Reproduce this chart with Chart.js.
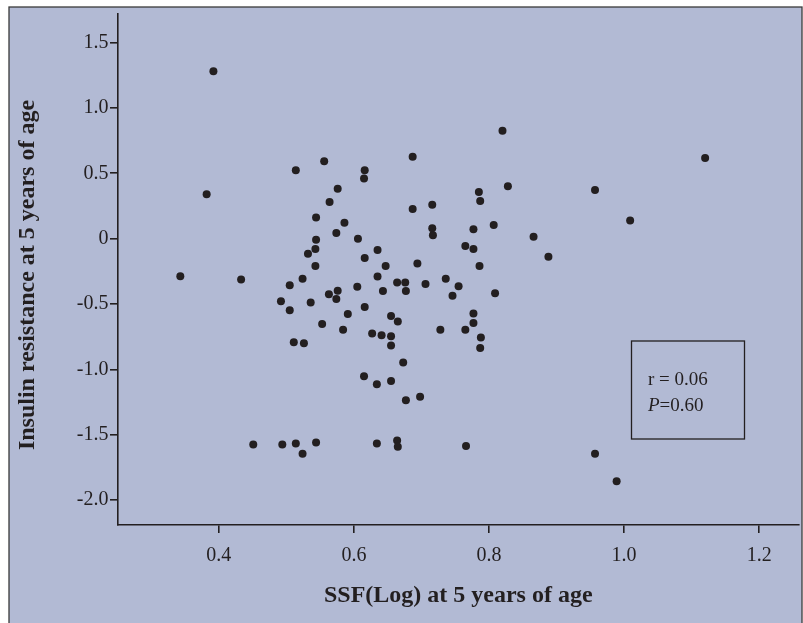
<!DOCTYPE html>
<html>
<head>
<meta charset="utf-8">
<title>SSF(Log) vs insulin resistance</title>
<script src="https://cdn.jsdelivr.net/npm/chart.js@4.4.1/dist/chart.umd.min.js"></script>
<style>
  html, body { margin: 0; padding: 0; background: #fff; }
  canvas { display: block; }
</style>
</head>
<body>
<canvas id="scatterChart" width="803" height="623"></canvas>
<script>
// SSF(Log) at 5 years (x) and insulin resistance at 5 years (y)
const ssfLog = [
    0.392, 0.514, 0.556, 0.616, 0.615, 0.382, 0.576, 0.564, 0.544, 0.586,
    0.574, 0.606, 0.544, 0.543, 0.532, 0.616, 0.543, 0.343, 0.433, 0.524,
    0.820, 0.687, 0.828, 0.785, 0.787, 0.687, 0.716, 0.716, 0.717, 0.777,
    0.807, 0.866, 0.765, 0.777, 0.888, 0.635, 0.647, 0.694, 0.786, 0.635,
    0.736, 1.120, 0.957, 1.009,
    0.505, 0.605, 0.492, 0.536, 0.563, 0.576, 0.574, 0.616, 0.505, 0.591,
    0.553, 0.584, 0.627, 0.511, 0.526, 0.615, 0.451, 0.494, 0.514, 0.544,
    0.524, 0.664, 0.676, 0.706, 0.755, 0.643, 0.677, 0.746, 0.809, 0.655,
    0.665, 0.641, 0.655, 0.655, 0.728, 0.765, 0.777, 0.777, 0.788, 0.787,
    0.673, 0.634, 0.655, 0.677, 0.698, 0.634, 0.664, 0.665, 0.766, 0.957,
    0.989
];
const insulinRes = [
    1.280, 0.523, 0.592, 0.523, 0.459, 0.339, 0.382, 0.281, 0.161, 0.122,
    0.044, 0.000, -0.008, -0.079, -0.115, -0.148, -0.209, -0.288, -0.313, -0.306,
    0.826, 0.627, 0.401, 0.357, 0.288, 0.227, 0.260, 0.079, 0.026, 0.072,
    0.105, 0.015, -0.056, -0.079, -0.138, -0.086, -0.209, -0.191, -0.209, -0.290,
    -0.306, 0.617, 0.372, 0.138,
    -0.356, -0.367, -0.479, -0.489, -0.425, -0.398, -0.461, -0.522, -0.548, -0.576,
    -0.652, -0.696, -0.726, -0.792, -0.800, -1.052, -1.575, -1.575, -1.567, -1.560,
    -1.646, -0.336, -0.336, -0.346, -0.364, -0.400, -0.400, -0.436, -0.418, -0.591,
    -0.634, -0.739, -0.746, -0.818, -0.696, -0.696, -0.573, -0.645, -0.757, -0.836,
    -0.948, -1.113, -1.088, -1.236, -1.210, -1.567, -1.544, -1.592, -1.585, -1.646,
    -1.855
];

const xTicks = [0.4, 0.6, 0.8, 1.0, 1.2];
const xTickLabels = ['0.4', '0.6', '0.8', '1.0', '1.2'];
const yTicks = [1.5, 1.0, 0.5, 0, -0.5, -1.0, -1.5, -2.0];
const yTickLabels = ['1.5', '1.0', '0.5', '0', '-0.5', '-1.0', '-1.5', '-2.0'];

const xTitle = 'SSF(Log) at 5 years of age';
const yTitle = 'Insulin resistance at 5 years of age';
const statR = 'r = 0.06';
const statP = ['P', '=0.60'];

const INK = '#231f20';
const PANEL_BG = '#b2bad4';
const SERIF = '"Liberation Serif", "Times New Roman", serif';

// panel background + frame, y title, and the r / P box
const panelPlugin = {
    id: 'panel',
    beforeDraw(chart) {
        const ctx = chart.ctx;
        ctx.save();
        ctx.fillStyle = '#ffffff';
        ctx.fillRect(0, 0, chart.width, chart.height);
        ctx.fillStyle = PANEL_BG;
        ctx.fillRect(9, 7, 793, 630);
        ctx.strokeStyle = '#3a3a3a';
        ctx.lineWidth = 1.3;
        ctx.strokeRect(9, 7, 793, 630);
        ctx.restore();
    },
    afterDraw(chart) {
        const ctx = chart.ctx;
        ctx.save();
        // y axis title, a little below the plot centre like the original
        ctx.translate(33.5, 275);
        ctx.rotate(-Math.PI / 2);
        ctx.fillStyle = INK;
        ctx.font = 'bold 24px ' + SERIF;
        ctx.textAlign = 'center';
        ctx.textBaseline = 'alphabetic';
        ctx.fillText(yTitle, 0, 0);
        ctx.restore();

        ctx.save();
        ctx.strokeStyle = INK;
        ctx.lineWidth = 1.3;
        ctx.strokeRect(631.5, 341, 113, 98);
        ctx.fillStyle = INK;
        ctx.textBaseline = 'alphabetic';
        ctx.font = '19px ' + SERIF;
        ctx.fillText(statR, 648, 385);
        ctx.font = 'italic 19px ' + SERIF;
        ctx.fillText(statP[0], 648, 411);
        const w = ctx.measureText(statP[0]).width;
        ctx.font = '19px ' + SERIF;
        ctx.fillText(statP[1], 648 + w, 411);
        ctx.restore();
    }
};

function tickLabel(values, labels) {
    return function(value) {
        const i = values.findIndex(v => Math.abs(v - value) < 1e-9);
        return i >= 0 ? labels[i] : '';
    };
}

const points = ssfLog.map((x, i) => ({ x: x, y: insulinRes[i] }));

new Chart(document.getElementById('scatterChart'), {
    type: 'scatter',
    data: {
        datasets: [{
            data: points,
            backgroundColor: INK,
            borderColor: INK,
            borderWidth: 0,
            pointRadius: 4,
            pointHoverRadius: 4
        }]
    },
    options: {
        responsive: false,
        devicePixelRatio: 1,
        animation: false,
        layout: { padding: { left: 0, top: 14, right: 3, bottom: 0 } },
        plugins: {
            legend: { display: false },
            tooltip: { enabled: false }
        },
        scales: {
            x: {
                type: 'linear',
                position: 'bottom',
                min: 0.25,
                max: 1.259,
                afterBuildTicks: scale => { scale.ticks = xTicks.map(v => ({ value: v })); },
                afterFit: scale => { scale.height = 98; },
                border: { display: true, color: INK, width: 1.6 },
                grid: { drawOnChartArea: false, drawTicks: true, tickLength: 8, color: INK, lineWidth: 1.6 },
                ticks: {
                    color: INK,
                    padding: 11,
                    maxRotation: 0,
                    font: { family: SERIF, size: 20 },
                    callback: tickLabel(xTicks, xTickLabels)
                },
                title: {
                    display: true,
                    text: xTitle,
                    color: INK,
                    padding: { top: 0, bottom: 12.7 },
                    font: { family: SERIF, size: 24, weight: 'bold' }
                }
            },
            y: {
                type: 'linear',
                min: -2.19,
                max: 1.718,
                afterBuildTicks: scale => { scale.ticks = yTicks.map(v => ({ value: v })); },
                afterFit: scale => { scale.width = 117.5; },
                border: { display: true, color: INK, width: 1.6 },
                grid: { drawOnChartArea: false, drawTicks: true, tickLength: 7.5, color: INK, lineWidth: 1.6 },
                ticks: {
                    color: INK,
                    padding: 1.5,
                    font: { family: SERIF, size: 20 },
                    callback: tickLabel(yTicks, yTickLabels)
                },
                title: { display: false }
            }
        }
    },
    plugins: [panelPlugin]
});
</script>
</body>
</html>
